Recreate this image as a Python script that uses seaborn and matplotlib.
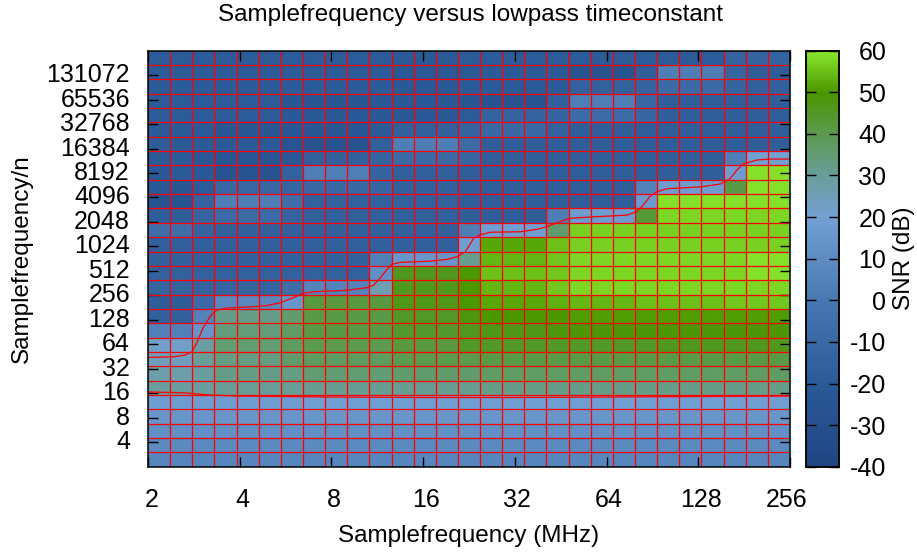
import numpy as np
import pandas as pd
import matplotlib
matplotlib.use('Agg')
import matplotlib.pyplot as plt
from matplotlib.colors import LinearSegmentedColormap
from matplotlib.transforms import ScaledTranslation
import seaborn as sns

plt.rcParams['font.family'] = ['Liberation Sans', 'DejaVu Sans']
plt.rcParams['axes.unicode_minus'] = False

x_ticks = [2, 4, 8, 16, 32, 64, 128, 256]
y_ticks = [4, 8, 16, 32, 64, 128, 256, 512, 1024, 2048, 4096, 8192, 16384, 32768, 65536, 131072]

# SNR in dB, top row first, 29 frequency columns
snr = [
    [-19,-19,-19,-19,-19,-19,-19,-19,-19,-19,-19,-20,-20,-20,-19,-19,-19,-19,-19,-19,-19,-19,-19,-19,-19,-19,-14,-14,-14],
    [-19,-19,-19,-19,-19,-19,-19,-19,-19,-19,-19,-22,-22,-22,-21,-20,-20,-20,-21,-25,-25,-25,-17,3,3,3,-12,-18,-18],
    [-19,-19,-19,-19,-19,-19,-19,-19,-19,-19,-19,-21,-21,-21,-20,-20,-20,-20,-20,-15,-15,-15,-14,-9,-9,-9,-13,-16,-16],
    [-19,-19,-19,-19,-19,-19,-23,-23,-23,-23,-21,-21,-21,-21,-23,-26,-26,-26,-16,3,3,3,-11,-17,-17,-17,-17,-17,-17],
    [-19,-19,-19,-19,-19,-19,-21,-21,-21,-21,-22,-22,-22,-22,-19,-14,-14,-14,-13,-8,-8,-8,-12,-17,-17,-17,-17,-17,-17],
    [-20,-20,-20,-23,-23,-23,-24,-24,-24,-24,-20,-16,-16,-16,-14,-10,-10,-10,-15,-17,-17,-17,-17,-17,-17,-17,-17,-17,-17],
    [-18,-20,-20,-21,-21,-21,-24,-27,-27,-27,-16,3,3,3,-8,-17,-17,-17,-17,-17,-17,-17,-17,-17,-17,-17,-17,-17,-17],
    [-20,-20,-22,-24,-24,-24,-22,-16,-16,-16,-13,-9,-9,-9,-12,-17,-17,-17,-17,-17,-17,-17,-17,-17,-17,-17,3,20,20],
    [-21,-20,-22,-27,-27,-27,-15,3,3,3,-13,-16,-16,-16,-17,-17,-17,-17,-17,-17,-17,-17,-17,-17,-17,-17,18,59,59],
    [-22,-23,-19,-11,-11,-11,-12,-10,-10,-10,-12,-16,-16,-16,-17,-17,-17,-17,-17,-17,-17,-17,5,18,18,18,41,59,59],
    [-27,-27,-14,3,3,3,-7,-15,-15,-15,-15,-15,-15,-15,-17,-17,-17,-17,-17,-17,-17,-17,17,59,59,59,59,59,59],
    [-18,-18,-13,-9,-9,-9,-14,-16,-16,-16,-16,-16,-16,-16,-17,-17,-17,-17,3,18,18,18,43,58,58,58,58,58,58],
    [-7,-7,-13,-16,-16,-16,-16,-16,-16,-16,-16,-16,-16,-16,3,19,19,19,36,57,57,57,57,57,57,57,57,57,57],
    [-16,-16,-16,-16,-16,-16,-16,-16,-16,-16,-16,-16,-16,-16,19,52,52,52,55,57,57,57,57,57,57,57,57,57,57],
    [-16,-16,-16,-16,-16,-16,-16,-16,-16,-16,4,15,15,15,31,54,54,54,56,58,58,58,58,58,58,58,58,59,59],
    [-15,-15,-15,-15,-15,-15,-15,-15,-15,-15,12,46,46,46,50,55,55,55,56,58,58,58,58,58,58,58,58,59,59],
    [-14,-14,-14,-14,-14,-14,-7,6,6,6,26,46,46,46,50,54,54,54,56,58,58,58,58,58,58,58,58,58,58],
    [-18,-18,-9,8,8,8,15,42,42,42,42,47,47,47,50,52,52,52,53,54,54,54,55,55,55,55,56,56,56],
    [-16,-16,5,32,32,32,36,41,41,41,41,45,45,45,48,50,50,50,50,51,51,51,51,51,51,51,51,51,51],
    [4,4,14,34,34,34,37,41,41,41,41,44,44,44,46,47,47,47,48,49,49,49,49,49,49,49,49,49,49],
    [22,22,28,35,35,35,38,40,40,40,40,42,42,42,45,45,45,45,45,45,45,45,45,46,46,46,46,46,46],
    [24,24,30,33,33,33,36,38,38,38,38,40,40,40,40,41,41,41,41,41,41,41,41,41,41,41,41,41,41],
    [27,27,29,32,32,32,33,35,35,35,35,36,36,36,36,37,37,37,37,37,37,37,37,37,37,37,37,37,37],
    [29,29,29,30,30,30,30,31,31,31,31,31,31,31,31,32,32,32,32,32,32,32,32,32,32,32,32,32,32],
    [18,18,18,18,18,18,18,19,19,19,19,19,19,19,19,19,19,19,19,19,19,19,19,19,19,19,19,19,19],
    [15,15,15,15,15,15,15,15,15,15,15,15,15,15,15,15,15,15,15,15,15,15,15,15,15,15,15,15,15],
    [12,12,12,12,12,12,12,12,12,12,12,12,12,12,12,12,12,12,12,12,12,12,12,12,12,12,12,12,12],
    [9,9,9,9,9,9,9,9,9,9,9,9,9,9,9,9,9,9,9,9,9,9,9,9,9,9,9,9,9],
    [7,7,7,7,7,7,7,7,7,7,7,7,7,7,7,7,7,7,7,7,7,7,7,7,7,7,7,7,7],
]

# the two red curves, log2 of frequency and log2 of n
upper_fx = [1.00,1.27,1.40,1.48,1.53,1.60,1.68,1.75,1.86,2.15,2.29,2.44,2.58,2.69,2.80,3.17,3.38,3.46,3.53,3.60,3.66,3.75,4.08,4.26,4.37,4.46,4.55,4.62,4.73,5.06,5.24,5.35,5.49,5.60,5.86,6.22,6.33,6.40,6.47,6.55,6.66,7.02,7.24,7.35,7.42,7.49,7.64,7.78,7.99]
upper_n = [5.47,5.49,5.56,5.70,6.05,6.67,7.16,7.40,7.48,7.54,7.58,7.70,7.90,8.08,8.15,8.21,8.31,8.42,8.70,9.04,9.27,9.35,9.40,9.47,9.58,9.78,10.33,10.47,10.58,10.60,10.70,10.81,11.01,11.15,11.21,11.28,11.42,11.69,12.03,12.24,12.36,12.43,12.55,12.78,13.12,13.37,13.53,13.57,13.57]
lower_fx = [1.00,1.40,1.68,2.00,3.00,4.00,5.00,6.00,7.00,8.00]
lower_n = [4.06,4.02,3.93,3.89,3.85,3.83,3.83,3.85,3.87,3.89]

snr_colors = [(0.00, '#1f4581'), (0.20, '#2b5a98'), (0.40, '#4977b1'), (0.60, '#72a0d3'),
              (0.65, '#6f9eb8'), (0.71, '#689d92'), (0.80, '#5b9a4f'), (0.90, '#4a9600'),
              (1.00, '#8ae62c')]
cmap = LinearSegmentedColormap.from_list('snr', snr_colors)

W, H = 917, 553
fig = plt.figure(figsize=(W / 100, H / 100), dpi=100)
ax = fig.add_axes([148 / W, 1 - 466.8 / H, 642 / W, 416.2 / H])
cax = fig.add_axes([806 / W, 1 - 466.8 / H, 33 / W, 416.2 / H])

df = pd.DataFrame(snr)
sns.heatmap(df, ax=ax, cbar_ax=cax, cmap=cmap, vmin=-40, vmax=60)

n_rows, n_cols = df.shape
to_col = lambda f: (np.asarray(f) - 1) * n_cols / 7
to_row = lambda n: (18 - np.asarray(n)) * n_rows / 17

ax.vlines(np.arange(1, n_cols), 0, n_rows, color='red', lw=0.9)
ax.hlines(np.arange(1, n_rows), 0, n_cols, color='red', lw=0.9)
ax.plot(to_col(upper_fx), to_row(upper_n), color='red', lw=0.9)
ax.plot(to_col(lower_fx), to_row(lower_n), color='red', lw=0.9)

FS = 18
ax.set_xticks(to_col(np.log2(x_ticks)))
ax.set_xticklabels(x_ticks, rotation=0)
ax.set_yticks(to_row(np.log2(y_ticks)))
ax.set_yticklabels(y_ticks, rotation=0)
ax.tick_params(axis='x', direction='in', length=7.2, width=1, top=True, color='black', labelsize=FS, pad=15.5)
ax.tick_params(axis='y', direction='in', length=7.2, width=1, right=True, color='black', labelsize=FS, pad=13)
ax.set_xlabel('Samplefrequency (MHz)', fontsize=17.5, labelpad=9)
ax.set_ylabel('Samplefrequency/n', fontsize=17.5, labelpad=10)
ax.set_title('Samplefrequency versus lowpass timeconstant', fontsize=17.5, x=0.502, pad=21.5)

# gnuplot nudges the x labels a bit, the end ones inward
nudges = [4, 2.5, 2.5, 2.5, 2.5, 2.5, 2.5, -3.5]
for lab, dx in zip(ax.get_xticklabels(), nudges):
    lab.set_transform(lab.get_transform() + ScaledTranslation(dx / 100, 0, fig.dpi_scale_trans))

for s in ax.spines.values():
    s.set_visible(True)
    s.set_linewidth(1.1)
    s.set_color('black')

cax.set_yticks(np.arange(-40, 61, 10))
cax.tick_params(direction='in', length=7.2, width=1, left=True, right=True, labelsize=FS, pad=34, color='black')
for lab in cax.get_yticklabels():
    lab.set_ha('right')
cax.set_ylabel('SNR (dB)', fontsize=17.5)
cax.yaxis.set_label_position('right')
cax.yaxis.set_label_coords(2.64, 0.5)
for s in cax.spines.values():
    s.set_visible(True)
    s.set_linewidth(1.1)
    s.set_color('black')

fig.savefig('out.png', dpi=100)
